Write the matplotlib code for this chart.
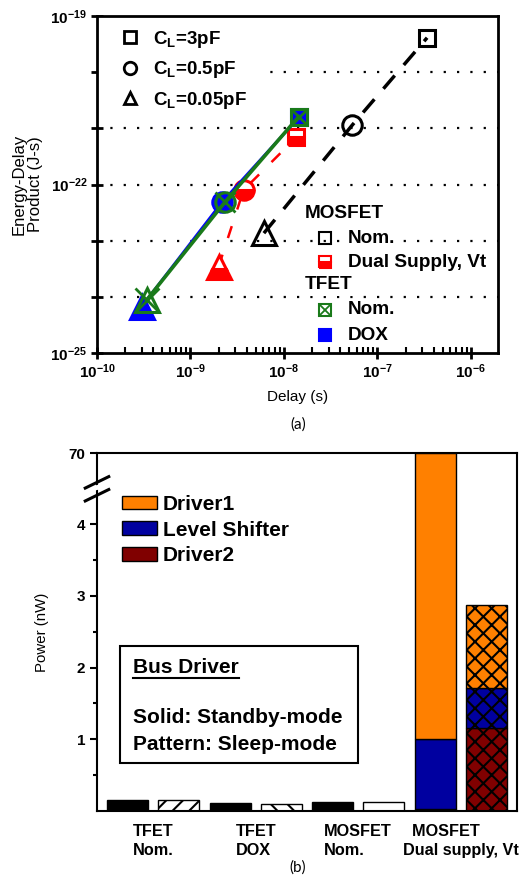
import numpy as np
import matplotlib
matplotlib.use('Agg')
import matplotlib.pyplot as plt
from matplotlib.lines import Line2D
from matplotlib.patches import Patch, Rectangle, Polygon
from matplotlib.ticker import NullFormatter, NullLocator, FixedLocator

plt.rcParams['font.family'] = ['Liberation Sans', 'DejaVu Sans']
plt.rcParams['font.weight'] = 'bold'
plt.rcParams['mathtext.fontset'] = 'custom'
plt.rcParams['mathtext.rm'] = 'Liberation Sans:bold'
plt.rcParams['mathtext.it'] = 'Liberation Sans:bold'
plt.rcParams['mathtext.bf'] = 'Liberation Sans:bold'
plt.rcParams['mathtext.default'] = 'rm'
plt.rcParams['hatch.linewidth'] = 1.5

# ---------------- data: (a) energy-delay product ----------------
load_labels = ['C$_\\mathrm{L}$=3pF', 'C$_\\mathrm{L}$=0.5pF', 'C$_\\mathrm{L}$=0.05pF']
load_markers = ['^', 'o', 's']            # order: 0.05pF, 0.5pF, 3pF
mos_nom_delay = [6.1e-9, 5.4e-8, 3.4e-7]
mos_nom_edp = [1.36e-23, 1.15e-21, 4.1e-20]
mos_dual_delay = [2.0e-9, 3.7e-9, 1.36e-8]
mos_dual_edp = [3.46e-24, 8.0e-23, 6.95e-22]
tfet_nom_delay = [3.4e-10, 2.36e-9, 1.44e-8]
tfet_nom_edp = [8.8e-25, 4.97e-23, 1.62e-21]
tfet_dox_delay = [3.0e-10, 2.2e-9, 1.45e-8]
tfet_dox_edp = [6.7e-25, 4.97e-23, 1.58e-21]
marker_sizes = [17, 14, 12]
x_decades = [1e-10, 1e-9, 1e-8, 1e-7, 1e-6]
y_decades = [1e-25, 1e-24, 1e-23, 1e-22, 1e-21, 1e-20, 1e-19]
y_tick_labels = ['$10^{-25}$', '', '', '$10^{-22}$', '', '', '$10^{-19}$']

# ---------------- data: (b) bus driver power ----------------
group_labels = ['TFET\nNom.', 'TFET\nDOX', 'MOSFET\nNom.', '  MOSFET\nDual supply, Vt']
single_standby = [0.16, 0.11, 0.12]
single_sleep = [0.16, 0.10, 0.12]
single_sleep_hatch = ['//', '\\\\', '']
dual_components = ['Driver2', 'Level Shifter', 'Driver1']   # bottom to top
dual_colors = ['#800000', '#0000A0', '#FF8000']
dual_standby = [0.03, 0.97, 69.0]
dual_sleep = [1.15, 0.57, 1.15]
legend_order = ['Driver1', 'Level Shifter', 'Driver2']
power_ticks = [1, 2, 3, 4, 70]
power_tick_labels = ['1', '2', '3', '4', '70']

fig = plt.figure(figsize=(5.25, 8.8), dpi=100)
ax1 = fig.add_axes([97/525, 1-353/880, 401/525, 337/880])
ax2 = fig.add_axes([97/525, 1-811/880, 420/525, 358/880])

# ================= (a) =================
ax1.set_xscale('log')
ax1.set_yscale('log')
ax1.set_xlim(1e-10, 1.95e-6)
ax1.set_ylim(1e-25, 1e-19)

ax1.hlines(y_decades[1:-1], 1e-10, 1.95e-6, colors='k', linestyles=(0, (1, 5)), lw=1.6, zorder=1)

def series(dx, dy, color, lw, dashes=None, mfc='none', fillstyle='full', xover=False, z=3):
    kw = dict(color=color, lw=lw, zorder=z)
    if dashes is not None:
        ax1.plot(dx, dy, ls='--', dashes=dashes, **kw)
    else:
        ax1.plot(dx, dy, ls='-', **kw)
    for x, y, m, ms in zip(dx, dy, load_markers, marker_sizes):
        ax1.plot([x], [y], ls='none', marker=m, ms=ms, mec=color, mew=2.2,
                 mfc=mfc, fillstyle=fillstyle, markerfacecoloralt='white', zorder=z + 0.5)
        if xover:
            ax1.plot([x], [y], ls='none', marker='x', ms=ms, mec=color, mew=2.0, zorder=z + 0.6)

series(mos_nom_delay, mos_nom_edp, 'black', 2.5, dashes=(5, 4))
series(mos_dual_delay, mos_dual_edp, '#FF0000', 1.8, dashes=(5, 7), mfc='#FF0000', fillstyle='bottom')
series(tfet_dox_delay, tfet_dox_edp, '#0000FF', 2.0, mfc='#0000FF', z=4)
series(tfet_nom_delay, tfet_nom_edp, '#1A7A1A', 2.6, xover=True, z=5)

# white area behind first legend
ax1.add_patch(Rectangle((0, 0.70), 0.41, 0.30, transform=ax1.transAxes,
                        fc='white', ec='none', zorder=2))
h1 = [Line2D([], [], ls='none', marker=m, ms=9, mfc='none', mec='k', mew=2)
      for m in ['s', 'o', '^']]
ax1.legend(h1, load_labels, loc='upper left', bbox_to_anchor=(0.06, 0.962),
           borderaxespad=0, borderpad=0, frameon=False, fontsize=13.5,
           handlelength=0.95, handletextpad=0.75, labelspacing=0.5)

# second legend (manual, with group headers)
tr = ax1.transAxes
tkw = dict(transform=tr, va='center', ha='left', fontsize=13.7, zorder=7,
           bbox=dict(fc='white', ec='none', pad=1.5))
ax1.text(0.519, 0.415, 'MOSFET', **tkw)
ax1.text(0.626, 0.341, 'Nom.', **tkw)
ax1.text(0.626, 0.270, 'Dual Supply, Vt', **tkw)
ax1.text(0.519, 0.202, 'TFET', **tkw)
ax1.text(0.626, 0.128, 'Nom.', **tkw)
ax1.text(0.626, 0.053, 'DOX', **tkw)
mkw = dict(transform=tr, ls='none', marker='s', ms=8, mew=1.5, clip_on=False, zorder=8)
ax1.plot([0.569], [0.341], mfc='none', mec='k', **mkw)
ax1.plot([0.569], [0.270], mfc='#FF0000', mec='#FF0000', fillstyle='bottom',
         markerfacecoloralt='white', **mkw)
ax1.plot([0.569], [0.128], mfc='none', mec='#1A7A1A', **mkw)
ax1.plot([0.569], [0.128], transform=tr, ls='none', marker='x', ms=8, mec='#1A7A1A',
         mew=1.3, zorder=8)
ax1.plot([0.569], [0.053], mfc='#0000FF', mec='#0000FF', **mkw)

ax1.set_yticks(y_decades)
ax1.set_yticklabels(y_tick_labels)
ax1.yaxis.set_minor_locator(NullLocator())
ax1.set_xticks(x_decades)
ax1.set_xticklabels(['$10^{%d}$' % int(round(np.log10(v))) for v in x_decades])
x_minor = [m * d for d in x_decades[:-1] for m in range(2, 10)]
ax1.xaxis.set_minor_locator(FixedLocator(x_minor))
ax1.xaxis.set_minor_formatter(NullFormatter())
ax1.tick_params(which='major', direction='inout', length=8, width=2, labelsize=11, pad=3)
ax1.tick_params(which='minor', direction='in', length=4, width=1.5)
for s in ax1.spines.values():
    s.set_linewidth(2)
ax1.set_xlabel('Delay (s)', fontsize=11, labelpad=6)
ax1.set_ylabel('Energy-Delay\nProduct (J-s)', fontsize=12, labelpad=5, linespacing=1.15)

# ================= (b) =================
brk, top_lin, top_val = 4.5, 4.99, 70.0

def fwd(y):
    y = np.asarray(y, dtype=float)
    return np.where(y <= brk, y, brk + (y - brk) * (top_lin - brk) / (top_val - brk))

def inv(y):
    y = np.asarray(y, dtype=float)
    return np.where(y <= brk, y, brk + (y - brk) * (top_val - brk) / (top_lin - brk))

ax2.set_yscale('function', functions=(fwd, inv))
ax2.set_xlim(-0.6, 7.6)
ax2.set_ylim(0, top_val)

width = 0.8
for i in range(3):
    ax2.bar(2 * i, single_standby[i], width, color='black', edgecolor='black', lw=1)
    ax2.bar(2 * i + 1, single_sleep[i], width, color='white', edgecolor='black', lw=1,
            hatch=single_sleep_hatch[i])

bottom_s = 0.0
bottom_p = 0.0
for comp, col, vs, vp in zip(dual_components, dual_colors, dual_standby, dual_sleep):
    ax2.bar(6, vs, width, bottom=bottom_s, color=col, edgecolor='black', lw=1)
    ax2.bar(7, vp, width, bottom=bottom_p, color=col, edgecolor='black', lw=1, hatch='xx')
    bottom_s += vs
    bottom_p += vp

ax2.set_yticks(power_ticks)
ax2.set_yticklabels(power_tick_labels)
ax2.yaxis.set_minor_locator(FixedLocator([0.5, 1.5, 2.5, 3.5]))
ax2.tick_params(axis='y', which='major', direction='out', length=5, width=1.5, labelsize=11)
ax2.tick_params(axis='y', which='minor', direction='out', length=3, width=1.5)
ax2.set_xticks([0.5, 2.5, 4.5, 6.5])
ax2.set_xticklabels(group_labels)
ax2.tick_params(axis='x', length=0, labelsize=11.7, pad=9)
for t in ax2.get_xticklabels():
    t.set_multialignment('left')
    t.set_linespacing(1.35)
for s in ax2.spines.values():
    s.set_linewidth(1.5)
ax2.set_ylabel('Power (nW)', fontsize=10.8, labelpad=14)

# axis break mark
bx = 0.0
for yc in (0.918, 0.882):
    ax2.plot([bx - 0.028, bx + 0.028], [yc - 0.016, yc + 0.016], transform=ax2.transAxes,
             color='k', lw=2.2, clip_on=False, zorder=10)
ax2.add_patch(Polygon([[bx - 0.012, 0.893], [bx + 0.012, 0.900], [bx + 0.012, 0.914], [bx - 0.012, 0.907]],
                      closed=True, transform=ax2.transAxes, fc='white', ec='none',
                      clip_on=False, zorder=9))

handles2 = [Patch(facecolor=dual_colors[dual_components.index(n)], edgecolor='black', lw=1)
            for n in legend_order]
ax2.legend(handles2, legend_order, loc='upper left', bbox_to_anchor=(0.059, 0.883),
           borderaxespad=0, borderpad=0, frameon=False, fontsize=15,
           handlelength=1.68, handleheight=0.63, handletextpad=0.3, labelspacing=0.32)

# info box
ax2.add_patch(Rectangle((0.055, 0.134), 0.567, 0.327, transform=ax2.transAxes,
                        fc='white', ec='black', lw=1.5, zorder=6))
t_bus = ax2.text(0.086, 0.400, 'Bus Driver', transform=ax2.transAxes, fontsize=15,
                 va='center', ha='left', zorder=7)
ax2.text(0.086, 0.260, 'Solid: Standby-mode', transform=ax2.transAxes, fontsize=15,
         va='center', ha='left', zorder=7)
ax2.text(0.086, 0.185, 'Pattern: Sleep-mode', transform=ax2.transAxes, fontsize=15,
         va='center', ha='left', zorder=7)

fig.text(298/525, 1 - 425/880, '(a)', ha='center', va='center', fontsize=11,
         family=['Lato', 'DejaVu Sans'], weight='normal')
fig.text(298/525, 1 - 868/880, '(b)', ha='center', va='center', fontsize=11,
         family=['Lato', 'DejaVu Sans'], weight='normal')

fig.canvas.draw()
bb = t_bus.get_window_extent().transformed(fig.transFigure.inverted())
fig.add_artist(Line2D([bb.x0, bb.x1], [bb.y0 - 0.001, bb.y0 - 0.001], color='k', lw=1.5,
                      transform=fig.transFigure))

fig.savefig('out.png', dpi=100)
